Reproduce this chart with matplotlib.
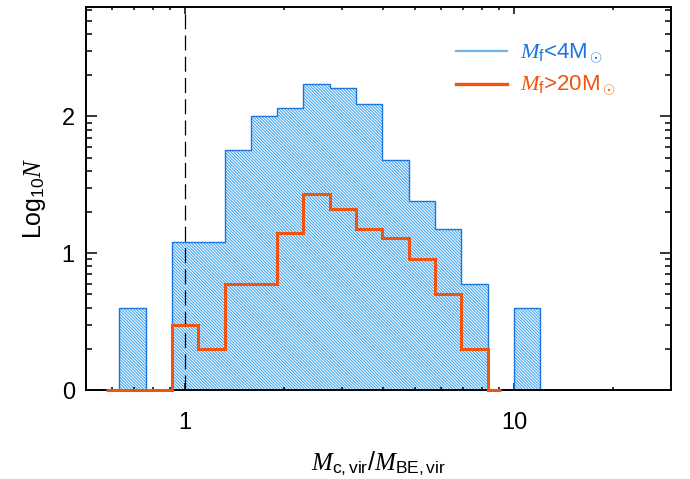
import numpy as np
import matplotlib
matplotlib.use('Agg')
import matplotlib.pyplot as plt
from matplotlib.lines import Line2D
from matplotlib.ticker import FixedLocator, FixedFormatter, NullFormatter

plt.rcParams['font.family'] = ['Liberation Sans', 'DejaVu Sans']
plt.rcParams['mathtext.fontset'] = 'custom'
plt.rcParams['mathtext.rm'] = 'Liberation Sans'
plt.rcParams['mathtext.it'] = 'Liberation Serif:italic'
plt.rcParams['mathtext.sf'] = 'Liberation Sans'
plt.rcParams['hatch.linewidth'] = 0.8

# bin centres in log10(Mc,vir/MBE,vir), 0.08 dex wide; counts per bin
blue_centres = [-0.32, -0.24, -0.16, -0.08, 0.00, 0.08, 0.16, 0.24, 0.32, 0.40,
                0.48, 0.56, 0.64, 0.72, 0.80, 0.88, 0.96, 1.04, 1.12, 1.20]
blue_counts = [0, 0, 4, 0, 12, 12, 57, 100, 115, 173,
               162, 124, 48, 24, 15, 6, 0, 4, 0, 0]

red_centres = [-0.24, -0.16, -0.08, 0.00, 0.08, 0.16, 0.24, 0.32, 0.40, 0.48,
               0.56, 0.64, 0.72, 0.80, 0.88, 0.96]
red_counts = [0, 0, 0, 3, 2, 6, 6, 14, 27, 21, 15, 13, 9, 5, 2, 0]

blue_line = '#1c74dc'
blue_hatch = '#45a6f2'
blue_leg = '#6eb2ee'
red = '#f0540f'


def step_edges(centres):
    # IDL psym=10 style: start/end at first/last centre, steps at midpoints
    c = np.asarray(centres)
    e = np.concatenate([[c[0]], (c[:-1] + c[1:]) / 2, [c[-1]]])
    return 10 ** e


def log_counts(counts):
    n = np.asarray(counts, dtype=float)
    return np.where(n > 0, np.log10(np.where(n > 0, n, 1)), 0.0)


fig = plt.figure(figsize=(6.9, 4.79), dpi=100)
ax = fig.add_axes([0.1246, 0.1858, 0.8479, 0.7996])

be = step_edges(blue_centres)
bv = log_counts(blue_counts)
ax.stairs(bv, be, baseline=0, fill=True, facecolor='none', edgecolor=blue_hatch,
          hatch='\\' * 11, linewidth=0, zorder=1)
ax.stairs(bv, be, baseline=0, color=blue_line, linewidth=1.0, zorder=2)

ax.axvline(1.0, color='black', linewidth=0.9, dashes=(12, 5), zorder=2.5)

re = step_edges(red_centres)
ax.stairs(log_counts(red_counts), re, baseline=None, color=red, linewidth=2.2,
          zorder=3, clip_on=False)

ax.set_xscale('log')
ax.set_xlim(0.5, 30)
ax.set_ylim(0, 2.8)

ax.xaxis.set_major_locator(FixedLocator([1, 10]))
ax.xaxis.set_major_formatter(FixedFormatter(['1', '10']))
ax.xaxis.set_minor_locator(FixedLocator([k * d for d in (0.1, 1, 10) for k in range(2, 10)]))
ax.xaxis.set_minor_formatter(NullFormatter())

ax.yaxis.set_major_locator(FixedLocator([0, 1, 2]))
ax.yaxis.set_major_formatter(FixedFormatter(['0', '1', '2']))
ax.yaxis.set_minor_locator(FixedLocator([n + np.log10(k) for n in range(3) for k in range(2, 10)]))

ax.tick_params(which='both', direction='in', top=True, right=True, width=1.1, labelsize=17)
ax.tick_params(axis='y', which='major', length=8, pad=8)
ax.tick_params(axis='y', which='minor', length=4)
ax.tick_params(axis='x', which='major', length=5, pad=16)
ax.tick_params(axis='x', which='minor', length=2.5)
for s in ax.spines.values():
    s.set_linewidth(1.4)

ax.set_xlabel(r'$M_{\rm c,vir}/M_{\rm BE,vir}$', fontsize=18, labelpad=11)
ax.set_ylabel(r'Log$_{10}$$N$', fontsize=18, labelpad=10)

handles = [Line2D([], [], color=blue_leg, linewidth=1.6),
           Line2D([], [], color=red, linewidth=2.4)]
labels = [r'$M_{\rm f}$<4M$_\odot$', r'$M_{\rm f}$>20M$_\odot$']
ax.legend(handles, labels, loc='upper left', bbox_to_anchor=(0.632, 0.91),
          frameon=False, fontsize=16, handlelength=2.3, handletextpad=0.6,
          labelspacing=0.4, borderpad=0, borderaxespad=0,
          labelcolor=[blue_line, red])

fig.savefig('out.png', dpi=100)
